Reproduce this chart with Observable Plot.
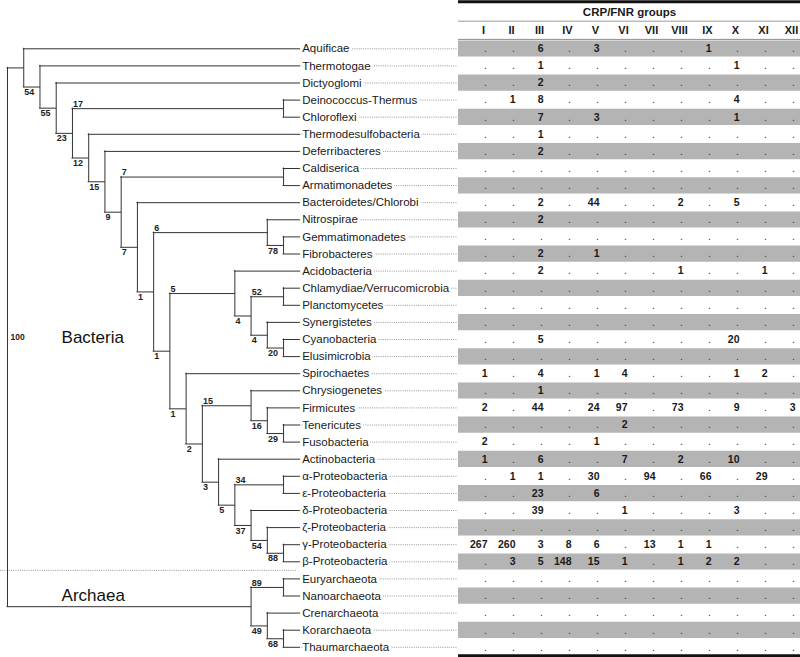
<!DOCTYPE html>
<html>
<head>
<meta charset="utf-8">
<script src="https://cdn.jsdelivr.net/npm/d3@7"></script>
<script src="https://cdn.jsdelivr.net/npm/@observablehq/plot@0.6"></script>
<style>
  html, body { margin: 0; padding: 0; background: #fff; }
  #wrap { display: flex; width: 800px; height: 657px; overflow: hidden; }
  #wrap svg { display: block; flex: none; }
</style>
</head>
<body>
<div id="wrap"></div>
<script>
// ---------- data ----------
const taxa = [
  "Aquificae", "Thermotogae", "Dictyoglomi", "Deinococcus-Thermus", "Chloroflexi",
  "Thermodesulfobacteria", "Deferribacteres", "Caldiserica", "Armatimonadetes",
  "Bacteroidetes/Chlorobi", "Nitrospirae", "Gemmatimonadetes", "Fibrobacteres",
  "Acidobacteria", "Chlamydiae/Verrucomicrobia", "Planctomycetes", "Synergistetes",
  "Cyanobacteria", "Elusimicrobia", "Spirochaetes", "Chrysiogenetes", "Firmicutes",
  "Tenericutes", "Fusobacteria", "Actinobacteria", "α-Proteobacteria", "ε-Proteobacteria",
  "δ-Proteobacteria", "ζ-Proteobacteria", "γ-Proteobacteria", "β-Proteobacteria",
  "Euryarchaeota", "Nanoarchaeota", "Crenarchaeota", "Korarchaeota", "Thaumarchaeota"
];

// cladogram with bootstrap support values as internal node labels
const treeNewick = `(
 (Aquificae,
  (Thermotogae,
   (Dictyoglomi,
    ((Deinococcus-Thermus,Chloroflexi)17,
     (Thermodesulfobacteria,
      (Deferribacteres,
       ((Caldiserica,Armatimonadetes)7,
        (Bacteroidetes/Chlorobi,
         ((Nitrospirae,(Gemmatimonadetes,Fibrobacteres)78)6,
          ((Acidobacteria,((Chlamydiae/Verrucomicrobia,Planctomycetes)52,(Synergistetes,(Cyanobacteria,Elusimicrobia)20)4)4)5,
           (Spirochaetes,
            ((Chrysiogenetes,(Firmicutes,(Tenericutes,Fusobacteria)29)16)15,
             (Actinobacteria,((α-Proteobacteria,ε-Proteobacteria)34,(δ-Proteobacteria,(ζ-Proteobacteria,(γ-Proteobacteria,β-Proteobacteria)88)54)37)5)3
            )2
           )1
          )1
         )1
        )7
       )9
      )15
     )12
    )23
   )55
  )54
 ),
 ((Euryarchaeota,Nanoarchaeota)89,(Crenarchaeota,(Korarchaeota,Thaumarchaeota)68)49)
)100`;

const domainNames = ["Bacteria", "Archaea"];

const groupTitle = "CRP/FNR groups";
const groups = ["I", "II", "III", "IV", "V", "VI", "VII", "VIII", "IX", "X", "XI", "XII"];

// counts per taxon (0 = none, shown as ".")
const counts = [
  [0, 0, 6, 0, 3, 0, 0, 0, 1, 0, 0, 0],        // Aquificae
  [0, 0, 1, 0, 0, 0, 0, 0, 0, 1, 0, 0],        // Thermotogae
  [0, 0, 2, 0, 0, 0, 0, 0, 0, 0, 0, 0],        // Dictyoglomi
  [0, 1, 8, 0, 0, 0, 0, 0, 0, 4, 0, 0],        // Deinococcus-Thermus
  [0, 0, 7, 0, 3, 0, 0, 0, 0, 1, 0, 0],        // Chloroflexi
  [0, 0, 1, 0, 0, 0, 0, 0, 0, 0, 0, 0],        // Thermodesulfobacteria
  [0, 0, 2, 0, 0, 0, 0, 0, 0, 0, 0, 0],        // Deferribacteres
  [0, 0, 0, 0, 0, 0, 0, 0, 0, 0, 0, 0],        // Caldiserica
  [0, 0, 0, 0, 0, 0, 0, 0, 0, 0, 0, 0],        // Armatimonadetes
  [0, 0, 2, 0, 44, 0, 0, 2, 0, 5, 0, 0],       // Bacteroidetes/Chlorobi
  [0, 0, 2, 0, 0, 0, 0, 0, 0, 0, 0, 0],        // Nitrospirae
  [0, 0, 0, 0, 0, 0, 0, 0, 0, 0, 0, 0],        // Gemmatimonadetes
  [0, 0, 2, 0, 1, 0, 0, 0, 0, 0, 0, 0],        // Fibrobacteres
  [0, 0, 2, 0, 0, 0, 0, 1, 0, 0, 1, 0],        // Acidobacteria
  [0, 0, 0, 0, 0, 0, 0, 0, 0, 0, 0, 0],        // Chlamydiae/Verrucomicrobia
  [0, 0, 0, 0, 0, 0, 0, 0, 0, 0, 0, 0],        // Planctomycetes
  [0, 0, 0, 0, 0, 0, 0, 0, 0, 0, 0, 0],        // Synergistetes
  [0, 0, 5, 0, 0, 0, 0, 0, 0, 20, 0, 0],       // Cyanobacteria
  [0, 0, 0, 0, 0, 0, 0, 0, 0, 0, 0, 0],        // Elusimicrobia
  [1, 0, 4, 0, 1, 4, 0, 0, 0, 1, 2, 0],        // Spirochaetes
  [0, 0, 1, 0, 0, 0, 0, 0, 0, 0, 0, 0],        // Chrysiogenetes
  [2, 0, 44, 0, 24, 97, 0, 73, 0, 9, 0, 3],    // Firmicutes
  [0, 0, 0, 0, 0, 2, 0, 0, 0, 0, 0, 0],        // Tenericutes
  [2, 0, 0, 0, 1, 0, 0, 0, 0, 0, 0, 0],        // Fusobacteria
  [1, 0, 6, 0, 0, 7, 0, 2, 0, 10, 0, 0],       // Actinobacteria
  [0, 1, 1, 0, 30, 0, 94, 0, 66, 0, 29, 0],    // α-Proteobacteria
  [0, 0, 23, 0, 6, 0, 0, 0, 0, 0, 0, 0],       // ε-Proteobacteria
  [0, 0, 39, 0, 0, 1, 0, 0, 0, 3, 0, 0],       // δ-Proteobacteria
  [0, 0, 0, 0, 0, 0, 0, 0, 0, 0, 0, 0],        // ζ-Proteobacteria
  [267, 260, 3, 8, 6, 0, 13, 1, 1, 0, 0, 0],   // γ-Proteobacteria
  [0, 3, 5, 148, 15, 1, 0, 1, 2, 2, 0, 0],     // β-Proteobacteria
  [0, 0, 0, 0, 0, 0, 0, 0, 0, 0, 0, 0],        // Euryarchaeota
  [0, 0, 0, 0, 0, 0, 0, 0, 0, 0, 0, 0],        // Nanoarchaeota
  [0, 0, 0, 0, 0, 0, 0, 0, 0, 0, 0, 0],        // Crenarchaeota
  [0, 0, 0, 0, 0, 0, 0, 0, 0, 0, 0, 0],        // Korarchaeota
  [0, 0, 0, 0, 0, 0, 0, 0, 0, 0, 0, 0]         // Thaumarchaeota
];

// ---------- tree parsing / layout ----------
function parseNewick(str) {
  const s = str.replace(/\s+/g, "");
  let i = 0;
  function readLabel() {
    const j = i;
    while (i < s.length && !",()".includes(s[i])) i++;
    return s.slice(j, i);
  }
  function node() {
    if (s[i] === "(") {
      i++;
      const children = [node()];
      while (s[i] === ",") { i++; children.push(node()); }
      i++; // ')'
      return { children, support: readLabel() };
    }
    return { name: readLabel() };
  }
  return node();
}

const root = d3.hierarchy(parseNewick(treeNewick));
const H = root.height;
root.eachAfter(n => {
  n.level = H - n.height;
  n.row = n.children
    ? (n.children[0].row + n.children[n.children.length - 1].row) / 2
    : taxa.indexOf(n.data.name);
});
const nodes = root.descendants();
const branches = nodes.filter(n => n.parent).map(n => ({ x1: n.parent.level, x2: n.level, y: n.row }));
const stems = nodes.filter(n => n.children).map(n => ({
  x: n.level, y1: n.children[0].row, y2: n.children[n.children.length - 1].row
}));
const supports = nodes.filter(n => n.parent && n.children && n.data.support).map(n => ({
  x: n.parent.level, y: n.row, text: n.data.support, above: n.parent.children[0] === n
}));
const leaves = root.leaves().map(n => ({ x: n.level, y: n.row, name: n.data.name }));
const bacteriaNode = root.children[0], archaeaNode = root.children[1];
const sepRow = (bacteriaNode.leaves().at(-1).row + archaeaNode.leaves()[0].row) / 2;

const FONT = "'Liberation Sans', Arial, Helvetica, sans-serif";
const yDomain = [0, taxa.length - 1];
const yRange = [48.3, 646.8];
const treeWidth = 458;
const xRange = [7, 299.3];
// leader end expressed in tree-level units (just before the table)
const leaderEnd = H + (treeWidth - 1.3 - xRange[1]) * H / (xRange[1] - xRange[0]);

// ---------- tree plot ----------
const treePlot = Plot.plot({
  width: treeWidth, height: 657,
  marginLeft: 0, marginRight: 1.3, marginTop: 0, marginBottom: 0,
  style: { fontFamily: FONT, background: "white", overflow: "visible" },
  x: { type: "linear", domain: [0, H], range: xRange, axis: null },
  y: { type: "linear", domain: yDomain, range: yRange, axis: null },
  marks: [
    // leaders from tips to the table
    Plot.ruleY(leaves, { y: "y", x1: "x", x2: () => leaderEnd, stroke: "#8a8a8a", strokeWidth: 0.9, strokeDasharray: "1 1.2" }),
    // Bacteria / Archaea separator
    Plot.ruleY([sepRow], { y: d => d, x1: () => 0 - xRange[0] * H / (xRange[1] - xRange[0]), x2: () => H - 0.15, stroke: "#8a8a8a", strokeWidth: 0.9, strokeDasharray: "1 1.2" }),
    // branches
    Plot.ruleY(branches, { x1: "x1", x2: "x2", y: "y", stroke: "#333", strokeWidth: 1, strokeLinecap: "square" }),
    Plot.ruleX(stems, { x: "x", y1: "y1", y2: "y2", stroke: "#333", strokeWidth: 1, strokeLinecap: "square" }),
    // taxon labels (white halo masks the leader)
    Plot.text(leaves, {
      x: "x", y: "y", text: "name", textAnchor: "start", dx: 2.4,
      fontSize: 11.5, fill: "#1a1a1a", stroke: "white", strokeWidth: 5
    }),
    // support values
    Plot.text(supports.filter(d => d.above), {
      x: "x", y: "y", text: "text", textAnchor: "start", dx: 0.6, dy: -4.8,
      fontSize: 9, fontWeight: "bold", fill: "#222"
    }),
    Plot.text(supports.filter(d => !d.above), {
      x: "x", y: "y", text: "text", textAnchor: "start", dx: 0.6, dy: 5.2,
      fontSize: 9, fontWeight: "bold", fill: "#222"
    }),
    Plot.text([{ x: root.level, y: root.row, text: root.data.support }], {
      x: "x", y: "y", text: "text", textAnchor: "start", dx: 3,
      fontSize: 8.5, fontWeight: "bold", fill: "#222"
    }),
    // domain names
    Plot.text([{ name: domainNames[0], y: root.row }], {
      x: () => 3.33, y: "y", text: "name", textAnchor: "start", fontSize: 17, fill: "#111"
    }),
    Plot.text([{ name: domainNames[1], y: archaeaNode.row }], {
      x: () => 3.33, y: "y", text: "name", textAnchor: "start", dy: -11, fontSize: 17, fill: "#111"
    })
  ]
});

// ---------- table plot ----------
const cells = taxa.flatMap((t, i) => groups.map((g, j) => ({ row: i, group: g, v: counts[i][j] })));
const bandRows = taxa.map((t, i) => i).filter(i => i % 2 === 0);

const tablePlot = Plot.plot({
  width: 800 - treeWidth, height: 657,
  marginLeft: 0, marginRight: 0, marginTop: 0, marginBottom: 0,
  style: { fontFamily: FONT, background: "white", overflow: "visible" },
  x: { type: "point", domain: groups, range: [26, 339], padding: 0, axis: null },
  y: { type: "linear", domain: yDomain, range: yRange, axis: null },
  marks: [
    // alternating grey bands
    Plot.ruleY(bandRows, { y: d => d, dy: -0.3, stroke: "#b4b4b4", strokeWidth: 16.2 }),
    // header rules
    Plot.ruleY([-2.75], { y: d => d, stroke: "#111", strokeWidth: 2.8 }),
    Plot.ruleY([-1.615], { y: d => d, stroke: "#9a9a9a", strokeWidth: 1 }),
    Plot.ruleY([-0.55], { y: d => d, stroke: "#8c8c8c", strokeWidth: 1 }),
    Plot.ruleY([35.5], { y: d => d, stroke: "#111", strokeWidth: 3 }),
    // header texts
    Plot.text([groupTitle], { text: d => d, frameAnchor: "top", lineAnchor: "middle", dy: 11.7, fontSize: 11.5, fontWeight: "bold", fill: "#1a1a1a" }),
    Plot.text(groups, { x: d => d, text: d => d, frameAnchor: "top", lineAnchor: "middle", dy: 30, dx: -4, fontSize: 11, fontWeight: "bold", fill: "#1a1a1a" }),
    // cell values
    Plot.text(cells.filter(d => d.v), {
      x: "group", y: "row", text: d => String(d.v),
      textAnchor: "end", fontSize: 10.5, fontWeight: "bold", fill: "#1a1a1a"
    }),
    Plot.text(cells.filter(d => !d.v), {
      x: "group", y: "row", text: () => ".",
      textAnchor: "end", dx: -0.5, fontSize: 10.5, fill: "#333"
    })
  ]
});

const wrap = document.getElementById("wrap");
wrap.appendChild(treePlot);
wrap.appendChild(tablePlot);
</script>
</body>
</html>
